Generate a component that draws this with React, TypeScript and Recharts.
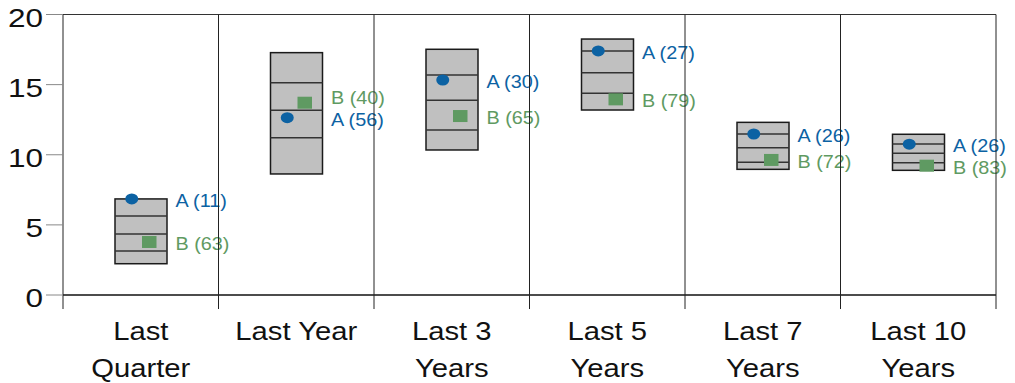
import { ComposedChart, Bar, Scatter, XAxis, YAxis, ReferenceLine } from 'recharts'

const categories = [
  'Last\nQuarter',
  'Last Year',
  'Last 3\nYears',
  'Last 5\nYears',
  'Last 7\nYears',
  'Last 10\nYears',
]
// box edges (bottom to top)
const p5 = [2.23, 8.63, 10.34, 13.19, 8.96, 8.89]
const p25 = [3.14, 11.22, 11.76, 14.38, 9.46, 9.43]
const p50 = [4.35, 13.17, 13.88, 15.85, 10.5, 10.1]
const p75 = [5.63, 15.14, 15.69, 17.4, 11.48, 10.77]
const p95 = [6.85, 17.28, 17.52, 18.25, 12.31, 11.46]
// fund values and their ranks
const seriesA = [6.85, 12.64, 15.33, 17.4, 11.48, 10.75]
const seriesB = [3.78, 13.71, 12.76, 13.95, 9.63, 9.22]
const rankA = [11, 56, 30, 27, 26, 26]
const rankB = [63, 40, 65, 79, 72, 83]
const yTicks = [0, 5, 10, 15, 20]
const boundaries = [0, 1, 2, 3, 4, 5, 6]

const data = categories.map((name, i) => ({
  name,
  idx: i + 0.5,
  box: [p5[i], p95[i]],
  p5: p5[i],
  p25: p25[i],
  p50: p50[i],
  p75: p75[i],
  p95: p95[i],
  a: seriesA[i],
  b: seriesB[i],
  rankA: rankA[i],
  rankB: rankB[i],
}))

const BLUE = '#0c62a3'
const GREEN = '#5f9a62'
const FONT = '"Liberation Sans", Arial, Helvetica, sans-serif'

function BoxShape(props: any) {
  const { x, y, width, height } = props
  const d = props.payload ?? props
  const pix = (v: number) => y + (height * (d.p95 - v)) / (d.p95 - d.p5)
  // label centres; the upper one moves up if they would collide
  let la = pix(d.a) + 1.5
  let lb = pix(d.b) + 1.5
  if (Math.abs(la - lb) < 22) {
    if (la < lb) la = lb - 22
    else lb = la - 22
  }
  const tx = x + width + 8.5
  return (
    <g>
      <rect x={x} y={y} width={width} height={height} fill="#c0c0c0" stroke="#1a1a1a" strokeWidth={1.5} />
      {[d.p25, d.p50, d.p75].map((v: number, i: number) => (
        <line key={i} x1={x} x2={x + width} y1={pix(v)} y2={pix(v)} stroke="#333" strokeWidth={1.5} />
      ))}
      <text
        transform={`translate(${tx},${la + 6.5}) scale(1.1,1)`}
        fontSize={18}
        fontFamily={FONT}
        fill={BLUE}
      >
        {`A (${d.rankA})`}
      </text>
      <text
        transform={`translate(${tx},${lb + 6.5}) scale(1.1,1)`}
        fontSize={18}
        fontFamily={FONT}
        fill={GREEN}
      >
        {`B (${d.rankB})`}
      </text>
    </g>
  )
}

const CircleA = (props: any) => (
  <ellipse cx={props.cx - 9} cy={props.cy} rx={6.5} ry={5.5} fill={BLUE} />
)

const SquareB = (props: any) => (
  <rect x={props.cx + 8.5 - 7.25} y={props.cy - 6} width={14.5} height={12} fill={GREEN} />
)

function CatTick(props: any) {
  const { x, y, payload } = props
  const lines = String(payload.value).split('\n')
  return (
    <g>
      {lines.map((l, i) => (
        <text
          key={i}
          transform={`translate(${x},${y + 45 + i * 36.5}) scale(1.17,1)`}
          textAnchor="middle"
          fontSize={25}
          fontFamily={FONT}
          fill="#111"
        >
          {l}
        </text>
      ))}
    </g>
  )
}

function ValTick(props: any) {
  const { x, y, payload } = props
  return (
    <text
      transform={`translate(${x},${y + 12}) scale(1.26,1)`}
      textAnchor="end"
      fontSize={25}
      fontFamily={FONT}
      fill="#111"
    >
      {payload.value}
    </text>
  )
}

export default function App() {
  return (
    <div style={{ position: 'absolute', left: 0, top: 0, width: 1015, height: 383, background: '#fff' }}>
      <ComposedChart
        width={1015}
        height={383}
        data={data}
        margin={{ top: 14.5, right: 19, bottom: 0, left: 0 }}
      >
        <XAxis
          xAxisId="cat"
          dataKey="name"
          height={88}
          interval={0}
          tickLine={false}
          axisLine={false}
          tickSize={0}
          tickMargin={0}
          tick={CatTick}
        />
        <XAxis
          xAxisId="grid"
          dataKey="idx"
          type="number"
          domain={[0, 6]}
          allowDataOverflow
          hide
        />
        <YAxis
          width={63}
          domain={[0, 20]}
          ticks={yTicks}
          interval={0}
          axisLine={false}
          tickSize={17}
          tickMargin={3}
          tickLine={{ stroke: '#888' }}
          tick={ValTick}
        />
        <ReferenceLine xAxisId="cat" y={20} stroke="#333" />
        <ReferenceLine xAxisId="cat" y={0} stroke="#111" strokeWidth={1.5} />
        {boundaries.map((b) => (
          <ReferenceLine
            key={b}
            xAxisId="grid"
            segment={[
              { x: b, y: -1 },
              { x: b, y: 20 },
            ]}
            stroke="#222"
            ifOverflow="visible"
          />
        ))}
        <Bar xAxisId="cat" dataKey="box" barSize={52} shape={BoxShape} isAnimationActive={false} />
        <Scatter xAxisId="cat" dataKey="a" shape={CircleA} isAnimationActive={false} />
        <Scatter xAxisId="cat" dataKey="b" shape={SquareB} isAnimationActive={false} />
      </ComposedChart>
    </div>
  )
}
